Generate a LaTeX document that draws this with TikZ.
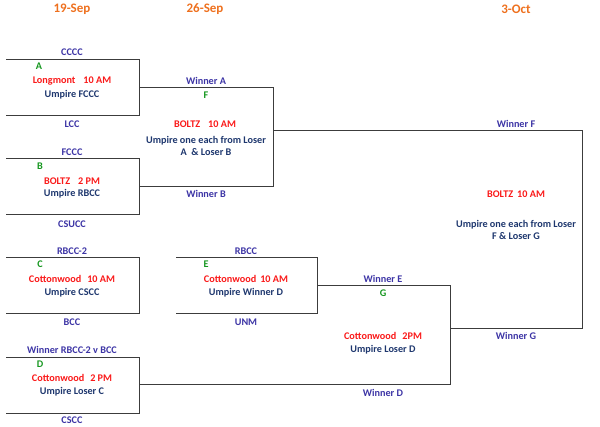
\documentclass[tikz,border=0pt]{standalone}
\usepackage{fontspec}
\setmainfont{Carlito}
\usepackage{tikz}
\usetikzlibrary{positioning, calc}
\definecolor{myorange}{RGB}{238,112,30}
\definecolor{myblue}{RGB}{60,52,165}
\definecolor{mynavy}{RGB}{30,55,110}
\definecolor{myred}{RGB}{250,25,25}
\definecolor{mygreen}{RGB}{20,150,30}
\definecolor{mygray}{RGB}{60,60,60}
\tikzset{
  datehdr/.style={font=\fontsize{13}{15}\selectfont\bfseries, text=myorange, inner sep=0pt},
  team/.style={font=\fontsize{10.2}{12}\selectfont\bfseries, text=myblue, inner sep=0pt},
  gameid/.style={font=\fontsize{10.2}{12}\selectfont\bfseries, text=mygreen, inner sep=0pt},
  venue/.style={font=\fontsize{10.2}{12}\selectfont\bfseries, text=myred, inner sep=0pt},
  umpire/.style={font=\fontsize{10.2}{12}\selectfont\bfseries, text=mynavy,
    align=center, inner sep=0pt},
  bline/.style={line width=1pt, color=mygray}
}

\begin{document}
\begin{tikzpicture}[x=1pt, y=-1pt]
  \useasboundingbox (0,0) rectangle (600,426);

  % Dates
  \node[datehdr] (d1) at (72,9) {19-Sep};
  \node[datehdr] (d2) at (205,9) {26-Sep};
  \node[datehdr] (d3) at (516,9) {3-Oct};

  % Bracket corners
  \coordinate (aTL) at (6,59);    \coordinate (aTR) at (139,59);
  \coordinate (aBR) at (139,115); \coordinate (aBL) at (6,115);
  \coordinate (bTL) at (6,158);   \coordinate (bTR) at (139,158);
  \coordinate (bBR) at (139,214); \coordinate (bBL) at (6,214);
  \coordinate (cTL) at (6,257);   \coordinate (cTR) at (139,257);
  \coordinate (cBR) at (139,313); \coordinate (cBL) at (6,313);
  \coordinate (dTL) at (6,357);   \coordinate (dTR) at (139,357);
  \coordinate (dBR) at (139,413); \coordinate (dBL) at (6,413);
  \coordinate (eTL) at (176,257); \coordinate (eTR) at (317,257);
  \coordinate (eBR) at (317,313); \coordinate (eBL) at (176,313);
  \coordinate (aOut) at (139,87);  \coordinate (bOut) at (139,186);
  \coordinate (fTR) at (273,87);   \coordinate (fBR) at (273,186);
  \coordinate (fOut) at (273,130);
  \coordinate (eOut) at (317,285); \coordinate (dOut) at (139,384);
  \coordinate (gTR) at (450,285);  \coordinate (gBR) at (450,384);
  \coordinate (gOut) at (450,328);
  \coordinate (zTR) at (582,130);  \coordinate (zBR) at (582,328);

  % Bracket lines
  \draw[bline] (aTL) -- (aTR) -- (aBR) -- (aBL);
  \draw[bline] (bTL) -- (bTR) -- (bBR) -- (bBL);
  \draw[bline] (cTL) -- (cTR) -- (cBR) -- (cBL);
  \draw[bline] (dTL) -- (dTR) -- (dBR) -- (dBL);
  \draw[bline] (eTL) -- (eTR) -- (eBR) -- (eBL);
  \draw[bline] (aOut) -- (fTR) -- (fBR) -- (bOut);
  \draw[bline] (eOut) -- (gTR) -- (gBR) -- (dOut);
  \draw[bline] (fOut) -- (zTR) -- (zBR) -- (gOut);

  % Game A
  \node[team] (aTop) at (72,52) {CCCC};
  \node[gameid] (aId) at (39,66) {A};
  \node[venue] (aVen) at (72,81) {Longmont\hspace{8pt}10 AM};
  \node[umpire] (aUmp) at (72,95) {Umpire FCCC};
  \node[team] (aBot) at (72,124) {LCC};

  % Game B
  \node[team] (bTop) at (72,152) {FCCC};
  \node[gameid] (bId) at (40,166) {B};
  \node[venue] (bVen) at (72,181) {BOLTZ\hspace{8pt}2 PM};
  \node[umpire] (bUmp) at (72,194) {Umpire RBCC};
  \node[team] (bBot) at (72,224) {CSUCC};

  % Game C
  \node[team] (cTop) at (72,251) {RBCC-2};
  \node[gameid] (cId) at (40,264) {C};
  \node[venue] (cVen) at (72,279) {Cottonwood\hspace{6pt}10 AM};
  \node[umpire] (cUmp) at (72,293) {Umpire CSCC};
  \node[team] (cBot) at (72,322) {BCC};

  % Game D
  \node[team] (dTop) at (72,350) {Winner RBCC-2 v BCC};
  \node[gameid] (dId) at (40,364) {D};
  \node[venue] (dVen) at (72,378) {Cottonwood\hspace{6pt}2 PM};
  \node[umpire] (dUmp) at (72,392) {Umpire Loser C};
  \node[team] (dBot) at (72,420) {CSCC};

  % Game E
  \node[team] (eTop) at (246,251) {RBCC};
  \node[gameid] (eId) at (206,264) {E};
  \node[venue] (eVen) at (246,279) {Cottonwood\hspace{4pt}10 AM};
  \node[umpire] (eUmp) at (246,293) {Umpire Winner D};
  \node[team] (eBot) at (246,322) {UNM};

  % Game F
  \node[team] (fTop) at (206,81) {Winner A};
  \node[gameid] (fId) at (206,95) {F};
  \node[venue] (fVen) at (205,124) {BOLTZ\hspace{8pt}10 AM};
  \node[umpire] (fUmp) at (206,146) {Umpire one each from Loser\\A \ \& Loser B};
  \node[team] (fBot) at (206,194) {Winner B};

  % Game G
  \node[team] (gTop) at (383,279) {Winner E};
  \node[gameid] (gId) at (383,293) {G};
  \node[venue] (gVen) at (383,336) {Cottonwood\hspace{6pt}2PM};
  \node[umpire] (gUmp) at (383,350) {Umpire Loser D};
  \node[team] (gBot) at (383,393) {Winner D};

  % Final
  \node[team] (zTop) at (516,124) {Winner F};
  \node[venue] (zVen) at (516,194) {BOLTZ\hspace{4pt}10 AM};
  \node[umpire] (zUmp) at (516,230) {Umpire one each from Loser\\F \& Loser G};
  \node[team] (zBot) at (516,336) {Winner G};
\end{tikzpicture}
\end{document}
